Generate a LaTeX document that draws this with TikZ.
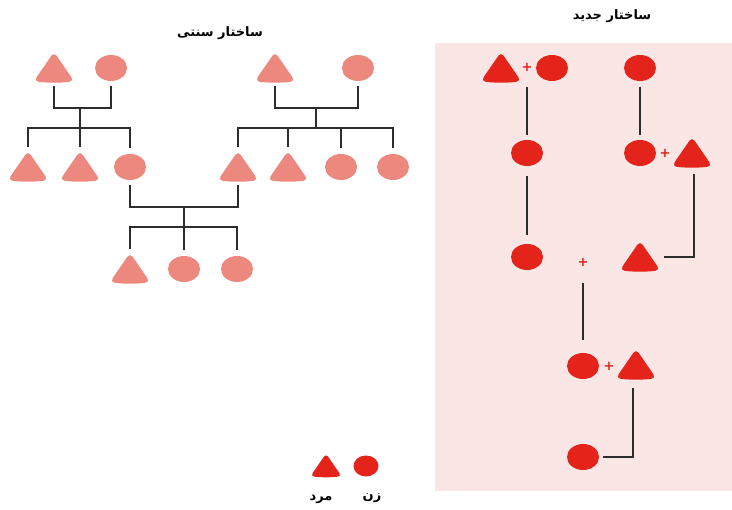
\documentclass[tikz,border=0pt]{standalone}
\usepackage{fontspec}
\usetikzlibrary{shapes.geometric}
\TeXXeTstate=1
\newfontfamily\arabicfont[Script=Arabic]{DejaVu Sans}
\newfontfamily\plusfont{DejaVu Sans}
\definecolor{salmon}{RGB}{236,136,126}
\definecolor{redf}{RGB}{228,36,26}
\definecolor{pinkbg}{RGB}{251,230,230}
\definecolor{lineg}{RGB}{45,45,45}
% #1 node name, #2 colour, #3 scale
\newcommand{\trifill}[3]{\fill[#2, rounded corners={#3*4.5pt}]
  ([shift={({-#3*20pt},{-#3*13pt})}]#1.center)
  .. controls ([shift={(-#3*8pt,{-#3*15pt})}]#1.center) and ([shift={(#3*8pt,{-#3*15pt})}]#1.center) ..
  ([shift={({#3*20pt},{-#3*13pt})}]#1.center)
  -- ([shift={(0pt,{#3*16pt})}]#1.center) -- cycle;}
\tikzset{
  tri/.style={minimum width=37pt, minimum height=27pt, inner sep=0pt, outer sep=0pt},
  smalltri/.style={minimum width=28pt, minimum height=21pt, inner sep=0pt, outer sep=0pt},
  circ/.style={ellipse, fill=#1, minimum width=32pt, minimum height=26pt, inner sep=0pt, outer sep=0pt},
  smallcirc/.style={circ=#1, minimum width=25pt, minimum height=21pt},
  plus/.style={text=redf, font=\plusfont\bfseries\fontsize{13}{14}\selectfont, inner sep=0pt},
  conn/.style={draw=lineg, line width=2pt},
  title/.style={font=\arabicfont\bfseries\fontsize{13}{15}\selectfont, inner sep=0pt},
  lbl/.style={font=\arabicfont\bfseries\fontsize{13}{15}\selectfont, inner sep=0pt}
}
\begin{document}
\begin{tikzpicture}[x=1pt,y=-1pt]
\useasboundingbox (0,0) rectangle (732,510);
\fill[pinkbg] (435,43) rectangle (732,491);

% titles
\node[title] (ttrad) at (220,33) {\beginR ساختار سنتی\endR};
\node[title] (tnew) at (612,16) {\beginR ساختار جدید\endR};

% ---------- traditional structure ----------
\node[tri] (fa) at (54,68) {};
\node[circ=salmon] (ma) at (111,68) {};
\node[tri] (fb) at (275,68) {};
\node[circ=salmon] (mb) at (358,68) {};

\node[tri] (c1) at (28,167) {};
\node[tri] (c2) at (80,167) {};
\node[circ=salmon] (c3) at (130,167) {};
\node[tri] (d1) at (238,167) {};
\node[tri] (d2) at (288,167) {};
\node[circ=salmon] (d3) at (341,167) {};
\node[circ=salmon] (d4) at (393,167) {};

\node[tri] (e1) at (130,269) {};
\node[circ=salmon] (e2) at (184,269) {};
\node[circ=salmon] (e3) at (237,269) {};

\foreach \n in {fa,fb,c1,c2,d1,d2,e1} {\trifill{\n}{salmon}{1}}

\coordinate (j1) at (80,108);
\coordinate (k1) at (80,128);
\coordinate (j2) at (316,108);
\coordinate (k2) at (316,128);
\coordinate (j3) at (184,207);
\coordinate (k3) at (184,227);

\draw[conn] ([yshift=-5pt]fa.south) |- (j1) -| ([yshift=-5pt]ma.south);
\draw[conn] (j1) -- (k1);
\draw[conn] ([yshift=6pt]c1.north) |- (k1) -| ([yshift=6pt]c3.north);
\draw[conn] (k1) -- ([yshift=6pt]c2.north);

\draw[conn] ([yshift=-5pt]fb.south) |- (j2) -| ([yshift=-5pt]mb.south);
\draw[conn] (j2) -- (k2);
\draw[conn] ([yshift=6pt]d1.north) |- (k2) -| ([yshift=6pt]d4.north);
\draw[conn] (k2 -| d2.north) -- ([yshift=6pt]d2.north);
\draw[conn] (k2 -| d3.north) -- ([yshift=6pt]d3.north);

\draw[conn] ([yshift=-5pt]c3.south) |- (j3) -| ([yshift=-5pt]d1.south);
\draw[conn] (j3) -- (k3);
\draw[conn] ([yshift=6pt]e1.north) |- (k3) -| ([yshift=6pt]e3.north);
\draw[conn] (k3) -- ([yshift=6pt]e2.north);

% ---------- new structure ----------
\node[tri] (r1) at (501,68) {};
\node[plus] (p1) at (527,67) {+};
\node[circ=redf] (r2) at (552,68) {};
\node[circ=redf] (r3) at (640,68) {};

\node[circ=redf] (s1) at (527,153) {};
\node[circ=redf] (s2) at (640,153) {};
\node[plus] (p2) at (665,153) {+};
\node[tri] (s3) at (692,153) {};

\node[circ=redf] (t1) at (527,257) {};
\node[plus] (p3) at (583,262) {+};
\node[tri] (t2) at (640,257) {};

\node[circ=redf] (u1) at (583,366) {};
\node[plus] (p4) at (609,366) {+};
\node[tri] (u2) at (636,365) {};

\node[circ=redf] (v1) at (583,457) {};

\foreach \n in {r1,s3,t2,u2} {\trifill{\n}{redf}{1}}

\draw[conn] ([yshift=-20pt]p1.center) -- ([yshift=5pt]s1.north);
\draw[conn] ([yshift=-6pt]r3.south) -- ([yshift=5pt]s2.north);
\draw[conn] ([yshift=-10pt]s1.south) -- ([yshift=9pt]t1.north);
\draw[conn] ([xshift=2pt,yshift=-8pt]s3.south) |- ([xshift=5pt]t2.east);
\draw[conn] ([yshift=-21pt]p3.center) -- ([yshift=13pt]u1.north);
\draw[conn] ([xshift=-3pt,yshift=-10pt]u2.south) |- ([xshift=4pt]v1.east);

% ---------- legend ----------
\node[smalltri] (lm) at (326,466) {};
\node[smallcirc=redf] (lw) at (366,466) {};
\trifill{lm}{redf}{0.77}
\node[lbl] (lmt) at (321,499) {\beginR مرد\endR};
\node[lbl] (lwt) at (372,498) {\beginR زن\endR};
\end{tikzpicture}
\end{document}
